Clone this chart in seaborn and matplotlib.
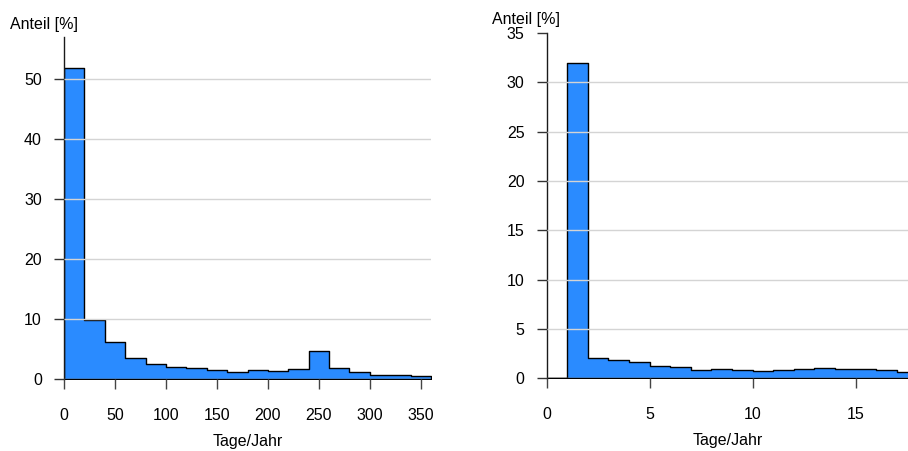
import matplotlib
matplotlib.use("Agg")
import matplotlib.pyplot as plt
import numpy as np
import pandas as pd
import seaborn as sns

# Anteil [%] je Klasse (Tage/Jahr), linkes Bild: Klassenbreite 20 Tage
tage_edges = np.arange(0, 361, 20)
tage_anteil = [51.8, 9.9, 6.2, 3.63, 2.5, 2.0, 1.85, 1.5, 1.28, 1.56,
               1.45, 1.73, 4.75, 1.85, 1.23, 0.67, 0.78, 0.58]

# rechtes Bild: Klassenbreite 1 Tag
kurz_edges = np.arange(0, 19, 1)
kurz_anteil = [0.0, 32.0, 2.02, 1.82, 1.61, 1.27, 1.13, 0.89, 0.99, 0.86,
               0.79, 0.82, 0.96, 1.06, 0.99, 0.96, 0.82, 0.68]

blau = "#2a8bff"

sns.set_style("white")
plt.rcParams["font.family"] = ["Liberation Sans", "DejaVu Sans"]
plt.rcParams["font.size"] = 11.5
plt.rcParams["text.color"] = "black"
plt.rcParams["xtick.labelcolor"] = "black"
plt.rcParams["ytick.labelcolor"] = "black"
plt.rcParams["axes.labelcolor"] = "black"

fig = plt.figure(figsize=(9.08, 4.51), dpi=100)
W, H = 908, 451


def panel(rect, edges, anteil, ylim, xlim, yticks, xticks):
    ax = fig.add_axes([rect[0] / W, 1 - rect[3] / H,
                       (rect[2] - rect[0]) / W, (rect[3] - rect[1]) / H])
    df = pd.DataFrame({"tage": (edges[:-1] + edges[1:]) / 2, "anteil": anteil})
    sns.histplot(data=df, x="tage", weights="anteil", bins=list(edges),
                 element="step", fill=True, color=blau, alpha=1,
                 edgecolor="black", linewidth=1, ax=ax)
    ax.set_xlim(*xlim)
    ax.set_ylim(*ylim)
    ax.set_yticks(yticks)
    ax.set_xticks(xticks)
    ax.set_axisbelow(False)
    ax.yaxis.grid(True, color="#d4d4d4", lw=1)
    for sp in ["top", "right", "bottom"]:
        ax.spines[sp].set_visible(False)
    ax.spines["left"].set_color("#1a1a1a")
    ax.spines["left"].set_linewidth(1)
    ax.tick_params(axis="y", direction="out", length=7.5, width=1,
                   color="#333333", pad=8.5, left=True)
    ax.tick_params(axis="x", direction="out", length=7.5, width=1,
                   color="#444444", pad=13, bottom=True)
    ax.set_ylabel("")
    ax.set_xlabel("Tage/Jahr", labelpad=8)
    return ax


ax1 = panel((64, 37, 431, 379.3), tage_edges, tage_anteil, (0, 57), (0, 360),
            [0, 10, 20, 30, 40, 50], [0, 50, 100, 150, 200, 250, 300, 350])
ax1.get_ygridlines()[0].set_color("#a8a8a8")

ax2 = panel((546.7, 33, 908, 378.3), kurz_edges, kurz_anteil, (0, 35),
            (0, 17.54), [0, 5, 10, 15, 20, 25, 30, 35], [0, 5, 10, 15])
ax2.get_ygridlines()[0].set_color("#a8a8a8")
ax2.get_ygridlines()[-1].set_visible(False)

fig.text(10 / W, 1 - 29.3 / H, "Anteil [%]", va="baseline", ha="left")
fig.text(491.7 / W, 1 - 24 / H, "Anteil [%]", va="baseline", ha="left")

fig.savefig("out.png", dpi=100)
